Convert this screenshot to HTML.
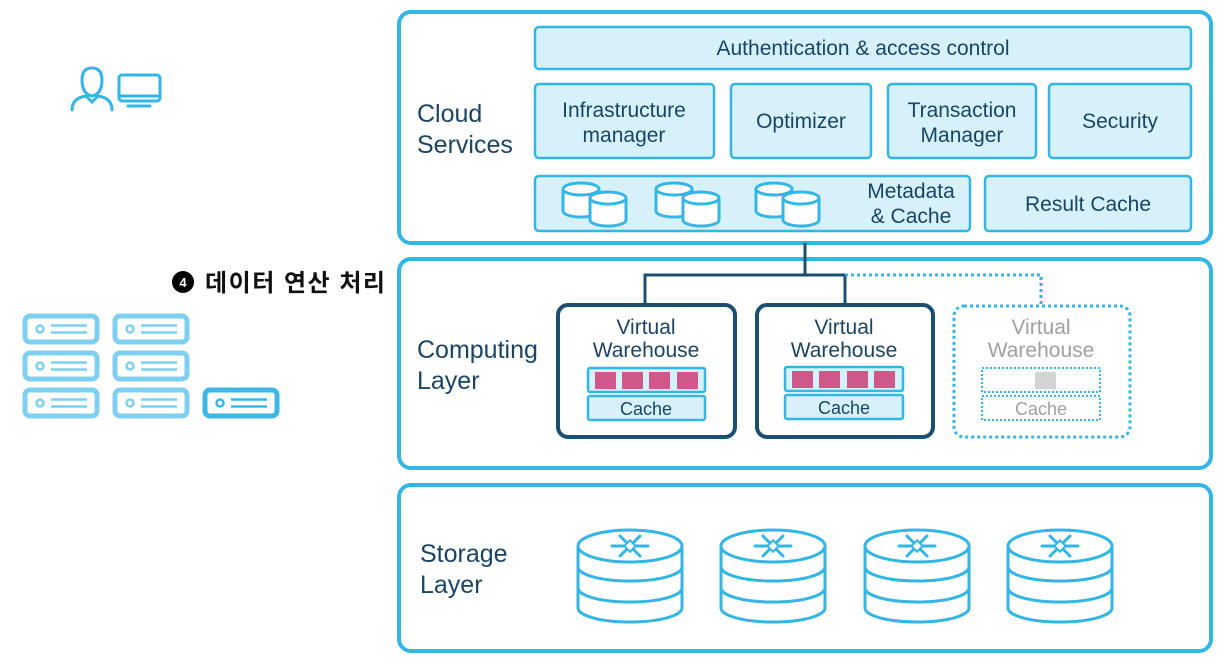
<!DOCTYPE html>
<html><head><meta charset="utf-8"><style>
body{margin:0;background:#fff;width:1224px;height:666px;overflow:hidden}
text{font-family:"Liberation Sans",sans-serif}
</style></head><body>
<svg width="1224" height="666" viewBox="0 0 1224 666" xmlns="http://www.w3.org/2000/svg">
<defs>
<g id="db" fill="#fff" stroke="#33b5e5" stroke-width="3">
<path d="M0,6 v22 a18,6 0 0 0 36,0 v-22"/><ellipse cx="18" cy="6" rx="18" ry="6"/>
</g>
<g id="srv">
<rect x="0" y="0" width="72" height="26" rx="5" fill="none" stroke-width="5"/>
<circle cx="15" cy="13" r="3.5" fill="none" stroke-width="2.5"/>
<line x1="26" y1="9.5" x2="62" y2="9.5" stroke-width="2.5"/><line x1="26" y1="16.5" x2="62" y2="16.5" stroke-width="2.5"/>
</g>
<g id="cyl" fill="#fff" stroke="#33b5e5" stroke-width="3">
<path d="M-52,16 v62 a52,14 0 0 0 104,0 v-62"/>
<path d="M-52,37 a52,14 0 0 0 104,0" fill="none"/>
<path d="M-52,58 a52,14 0 0 0 104,0" fill="none"/>
<ellipse cx="0" cy="16" rx="52" ry="16"/>
<g stroke-width="3" stroke-linecap="round">
<line x1="-18" y1="16" x2="18" y2="16"/><line x1="-10" y1="6" x2="10" y2="26"/><line x1="10" y1="6" x2="-10" y2="26"/>
</g>
<rect x="-4" y="12" width="8" height="8" transform="rotate(45 0 16)" fill="#fff" stroke-width="2"/>
</g>
</defs>

<g fill="none" stroke="#33b5e5" stroke-width="3" stroke-linecap="round">
<path d="M72,110 q0,-12 14,-14 l6,6 l6,-6 q14,2 14,14"/>
<path d="M82,80 q0,-12 10,-12 q10,0 10,12 q0,14 -10,16 q-10,-2 -10,-16z"/>
<rect x="119" y="75" width="41" height="26" rx="3"/>
<line x1="121" y1="96" x2="158" y2="96"/><line x1="128" y1="106" x2="150" y2="106"/>
</g>
<g stroke="#7fd0f0">
<use href="#srv" x="25" y="316"/><use href="#srv" x="115" y="316"/>
<use href="#srv" x="25" y="353"/><use href="#srv" x="115" y="353"/>
<use href="#srv" x="25" y="390"/><use href="#srv" x="115" y="390"/>
</g>
<g stroke="#3db5e5"><use href="#srv" x="205" y="390"/></g>
<circle cx="183" cy="282" r="11" fill="#000"/>
<text x="183" y="287" font-size="13" font-weight="bold" fill="#fff" text-anchor="middle">4</text>
<text x="205" y="291" font-size="24" font-weight="bold" fill="#111" textLength="180" style='font-family:"Liberation Sans","Noto Sans CJK KR",sans-serif'>데이터 연산 처리</text>

<g fill="#fff" stroke="#33b5e5" stroke-width="4">
<rect x="399" y="12" width="812" height="231" rx="12"/>
<rect x="399" y="259" width="812" height="209" rx="12"/>
<rect x="399" y="485" width="812" height="166" rx="12"/>
</g>
<g fill="#1a4466" font-size="25">
<text x="417" y="122">Cloud</text><text x="417" y="153">Services</text>
<text x="417" y="358">Computing</text><text x="417" y="389">Layer</text>
<text x="420" y="562">Storage</text><text x="420" y="593">Layer</text>
</g>

<g fill="#d6f1fa" stroke="#33b5e5" stroke-width="2.5">
<rect x="535" y="27" width="656" height="42" rx="4"/>
<rect x="535" y="84" width="179" height="74" rx="4"/>
<rect x="731" y="84" width="140" height="74" rx="4"/>
<rect x="888" y="84" width="148" height="74" rx="4"/>
<rect x="1049" y="84" width="142" height="74" rx="4"/>
<rect x="535" y="176" width="435" height="55" rx="4"/>
<rect x="985" y="176" width="206" height="55" rx="4"/>
</g>
<g fill="#1a4466" font-size="21" text-anchor="middle">
<text x="863" y="55">Authentication &amp; access control</text>
<text x="624" y="117">Infrastructure</text><text x="624" y="142">manager</text>
<text x="801" y="128">Optimizer</text>
<text x="962" y="117">Transaction</text><text x="962" y="142">Manager</text>
<text x="1120" y="128">Security</text>
<text x="911" y="198">Metadata</text><text x="911" y="223">&amp; Cache</text>
<text x="1088" y="211">Result Cache</text>
</g>
<use href="#db" x="563" y="183"/><use href="#db" x="590" y="192"/>
<use href="#db" x="656" y="183"/><use href="#db" x="683" y="192"/>
<use href="#db" x="756" y="183"/><use href="#db" x="783" y="192"/>

<g fill="none" stroke="#1a4f72" stroke-width="3">
<path d="M805,243 V275 M645,304 V275 H845 V304"/>
</g>
<path d="M845,275 H1041 V304" fill="none" stroke="#33b5e5" stroke-width="3" stroke-dasharray="3,3"/>

<g fill="#fff" stroke="#1a4f72" stroke-width="4">
<rect x="558" y="305" width="177" height="132" rx="10"/>
<rect x="757" y="305" width="176" height="132" rx="10"/>
</g>
<rect x="954" y="306" width="176" height="131" rx="10" fill="#fff" stroke="#33b5e5" stroke-width="3" stroke-dasharray="3,3"/>
<g fill="#d6f1fa" stroke="#33b5e5" stroke-width="2.5">
<rect x="588" y="368" width="117" height="24" rx="2"/><rect x="588" y="396" width="117" height="24" rx="2"/>
<rect x="785" y="367" width="118" height="24" rx="2"/><rect x="785" y="395" width="118" height="24" rx="2"/>
</g>
<g fill="none" stroke="#33b5e5" stroke-width="2" stroke-dasharray="2,2">
<rect x="982" y="368" width="118" height="24"/><rect x="982" y="396" width="118" height="24"/>
</g>
<g fill="#d0578a">
<rect x="595" y="372" width="21" height="17"/><rect x="622" y="372" width="21" height="17"/><rect x="649" y="372" width="21" height="17"/><rect x="677" y="372" width="21" height="17"/>
<rect x="792" y="371" width="21" height="17"/><rect x="819" y="371" width="21" height="17"/><rect x="847" y="371" width="21" height="17"/><rect x="874" y="371" width="21" height="17"/>
</g>
<rect x="1035" y="372" width="21" height="17" fill="#d4d4d4"/>
<g font-size="21" text-anchor="middle" fill="#1a4466">
<text x="646" y="334">Virtual</text><text x="646" y="357">Warehouse</text>
<text x="646" y="415" font-size="18">Cache</text>
<text x="844" y="334">Virtual</text><text x="844" y="357">Warehouse</text>
<text x="844" y="414" font-size="18">Cache</text>
</g>
<g font-size="21" text-anchor="middle" fill="#a0a0a0">
<text x="1041" y="334">Virtual</text><text x="1041" y="357">Warehouse</text>
<text x="1041" y="415" font-size="18">Cache</text>
</g>

<use href="#cyl" x="630" y="530"/><use href="#cyl" x="773" y="530"/>
<use href="#cyl" x="917" y="530"/><use href="#cyl" x="1060" y="530"/>
</svg>
</body></html>
